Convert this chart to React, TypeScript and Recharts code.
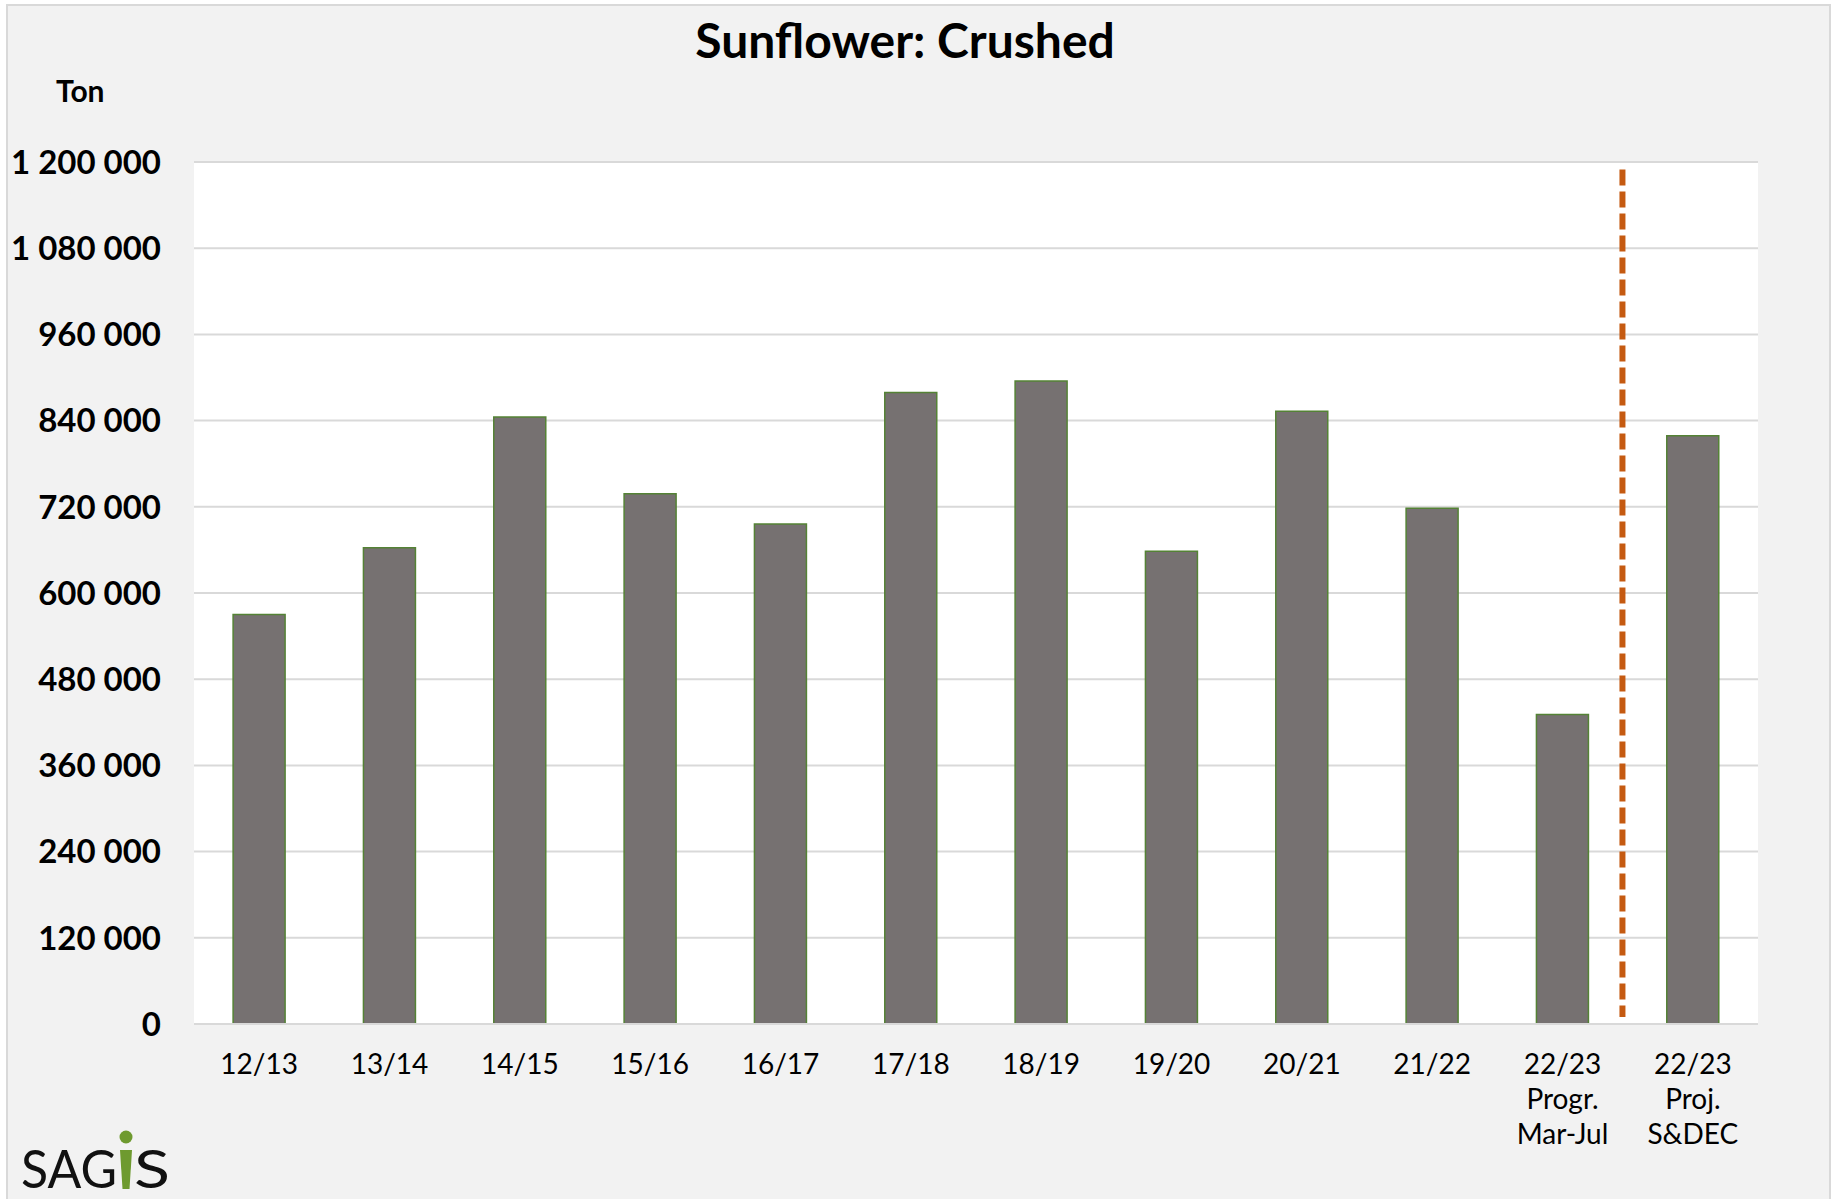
import React from 'react';
import { ComposedChart, Bar, XAxis, YAxis, CartesianGrid, ReferenceLine } from 'recharts';

const seasons = ['12/13', '13/14', '14/15', '15/16', '16/17', '17/18', '18/19', '19/20', '20/21', '21/22', '22/23\nProgr.\nMar-Jul', '22/23\nProj.\nS&DEC'];
const crushed = [570000, 663000, 845000, 738000, 696000, 879000, 895000, 658000, 853000, 718000, 431000, 819000];
const tonTicks = [0, 120000, 240000, 360000, 480000, 600000, 720000, 840000, 960000, 1080000, 1200000];
// divider between the progress and projection bars, in category units
const dividerAt = 10.96;
const dividerTop = 1189500;
const dividerBottom = 9800;

const W = 1833;
const H = 1199;
const FONT = 'Lato, "Open Sans", sans-serif';

const fmt = (v: number) => String(v).replace(/\B(?=(\d{3})+(?!\d))/g, ' ');

const SeasonTick = (props: any) => {
  const { x, y, payload } = props;
  const lines = String(payload.value).split('\n');
  return (
    <text x={x} y={y} textAnchor="middle" fontFamily={FONT} fontSize={28} fill="#000">
      {lines.map((l, i) => (
        <tspan key={i} x={x} dy={i === 0 ? 50 : 35}>{l}</tspan>
      ))}
    </text>
  );
};

const TonTick = (props: any) => {
  const { x, y, payload } = props;
  return (
    <text x={x - 33} y={y} dy="0.36em" textAnchor="end" fontFamily={FONT} fontWeight={700} fontSize={33} fill="#000">
      {fmt(payload.value)}
    </text>
  );
};

export default function App() {
  const data = seasons.map((s, i) => ({ season: s, crushed: crushed[i], pos: i + 0.5 }));

  return (
    <div style={{ position: 'absolute', left: 0, top: 0, width: W, height: H, background: '#fff', overflow: 'hidden' }}>
      <div style={{ position: 'absolute', left: 6, top: 4, width: 1825, height: 1210, background: '#f2f2f2', border: '2px solid #d9d9d9', boxSizing: 'border-box' }} />
      <div style={{ position: 'absolute', left: 0, top: 0 }}>
        <ComposedChart width={W} height={H} data={data} margin={{ top: 162, right: 75, bottom: 115, left: 0 }} barCategoryGap="30%">
          <CartesianGrid vertical={false} stroke="#d9d9d9" strokeWidth={2} fill="#ffffff" fillOpacity={1} />
          <XAxis dataKey="season" height={60} tick={<SeasonTick />} tickLine={false} tickSize={0} tickMargin={0} interval={0} axisLine={{ stroke: '#d9d9d9', strokeWidth: 2 }} />
          <XAxis xAxisId="ref" dataKey="pos" type="number" domain={[0, seasons.length]} allowDataOverflow hide />
          <YAxis width={194} domain={[0, 1200000]} ticks={tonTicks} tick={<TonTick />} tickLine={false} tickSize={0} tickMargin={0} axisLine={false} interval={0} />
          <Bar dataKey="crushed" fill="#767171" stroke="#548235" strokeWidth={1.5} isAnimationActive={false} />
          <ReferenceLine
            xAxisId="ref"
            segment={[{ x: dividerAt, y: dividerTop }, { x: dividerAt, y: dividerBottom }]}
            stroke="#c55a11"
            strokeWidth={6}
            strokeDasharray="16 6"
          />
        </ComposedChart>
      </div>
      <svg width={W} height={H} style={{ position: 'absolute', left: 0, top: 0, pointerEvents: 'none' }}>
        <text x={905} y={58} textAnchor="middle" fontFamily={FONT} fontWeight={700} fontSize={48} fill="#000">Sunflower: Crushed</text>
        <text x={56} y={102} fontFamily={FONT} fontWeight={700} fontSize={30} fill="#000">Ton</text>
        <g fontFamily={FONT} fontSize={52} fill="#111">
          <text x={21} y={1188} textLength={96} lengthAdjust="spacingAndGlyphs">SAG</text>
          <text x={134} y={1188} textLength={36} lengthAdjust="spacingAndGlyphs">S</text>
        </g>
        <circle cx={126} cy={1137} r={6.5} fill="#6e9a2f" />
        <path d="M120 1150 L132 1150 L129.5 1189 L122.5 1189 Z" fill="#6e9a2f" />
      </svg>
    </div>
  );
}
